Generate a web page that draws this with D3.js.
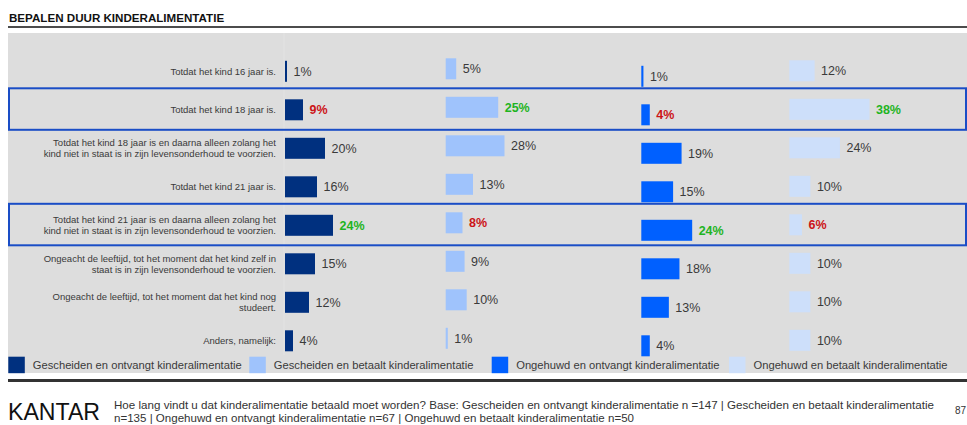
<!DOCTYPE html>
<html>
<head>
<meta charset="utf-8">
<script src="https://cdn.jsdelivr.net/npm/d3@7"></script>
<style>
  html, body { margin: 0; padding: 0; background: #ffffff; }
  svg { display: block; }
</style>
</head>
<body>
<div id="chart"></div>
<script>
// ---------- DATA ----------
const categories = [
  ["Totdat het kind 16 jaar is."],
  ["Totdat het kind 18 jaar is."],
  ["Totdat het kind 18 jaar is en daarna alleen zolang het", "kind niet in staat is in zijn levensonderhoud te voorzien."],
  ["Totdat het kind 21 jaar is."],
  ["Totdat het kind 21 jaar is en daarna alleen zolang het", "kind niet in staat is in zijn levensonderhoud te voorzien."],
  ["Ongeacht de leeftijd, tot het moment dat het kind zelf in", "staat is in zijn levensonderhoud te voorzien."],
  ["Ongeacht de leeftijd, tot het moment dat het kind nog", "studeert."],
  ["Anders, namelijk:"]
];
const seriesNames = [
  "Gescheiden en ontvangt kinderalimentatie",
  "Gescheiden en betaalt kinderalimentatie",
  "Ongehuwd en ontvangt kinderalimentatie",
  "Ongehuwd en betaalt kinderalimentatie"
];
const gescheidenOntvangt = [1, 9, 20, 16, 24, 15, 12, 4];
const gescheidenBetaalt  = [5, 25, 28, 13, 8, 9, 10, 1];
const ongehuwdOntvangt   = [1, 4, 19, 15, 24, 18, 13, 4];
const ongehuwdBetaalt    = [12, 38, 24, 10, 6, 10, 10, 10];
// significance markers: "+" higher (green), "-" lower (red), "" none
const gescheidenOntvangtSig = ["", "-", "", "", "+", "", "", ""];
const gescheidenBetaaltSig  = ["", "+", "", "", "-", "", "", ""];
const ongehuwdOntvangtSig   = ["", "-", "", "", "+", "", "", ""];
const ongehuwdBetaaltSig    = ["", "+", "", "", "-", "", "", ""];
const highlightedRows = [1, 4];

const title = "BEPALEN DUUR KINDERALIMENTATIE";
const footerLines = [
  "Hoe lang vindt u dat kinderalimentatie betaald moet worden? Base: Gescheiden en ontvangt kinderalimentatie n =147 | Gescheiden en betaalt kinderalimentatie",
  "n=135 | Ongehuwd en ontvangt kinderalimentatie n=67 | Ongehuwd en betaalt kinderalimentatie n=50"
];
const pageNumber = "87";

// ---------- LAYOUT / STYLE ----------
const W = 967, H = 425;
const colors = ["#00307f", "#9fc3fc", "#0060ff", "#cddffa"];
const panelX = [285, 445.7, 641.3, 789.3];
const panelW = [200, 210, 212, 211];     // pixels per 100%
const seriesOffset = [0, -2.5, 5, -0.5];
const barH = 21;
const sigColor = { "+": "#1fb41f", "-": "#cc1417", "": "#3a3a3a" };
const fontMain = "'Liberation Sans', Arial, Helvetica, sans-serif";
const footerLengths = [820, 520];

const series = [gescheidenOntvangt, gescheidenBetaalt, ongehuwdOntvangt, ongehuwdBetaalt];
const sigs = [gescheidenOntvangtSig, gescheidenBetaaltSig, ongehuwdOntvangtSig, ongehuwdBetaaltSig];

const svg = d3.select("#chart").append("svg").attr("width", W).attr("height", H);

// title
svg.append("text").attr("x", 9).attr("y", 21.5)
  .attr("font-family", fontMain).attr("font-size", 11.6).attr("font-weight", "bold")
  .attr("fill", "#111").text(title);
svg.append("line").attr("x1", 8).attr("x2", W).attr("y1", 27).attr("y2", 27)
  .attr("stroke", "#111").attr("stroke-width", 1.6);

// grey panel
svg.append("rect").attr("x", 8).attr("y", 33).attr("width", W - 8).attr("height", 340)
  .attr("fill", "#dddddd");
svg.append("line").attr("x1", 284).attr("x2", 284).attr("y1", 33).attr("y2", 355)
  .attr("stroke", "#e3e3e3").attr("stroke-width", 1);

// scales
const y = d3.scaleBand().domain(d3.range(categories.length)).range([52.05, 360.05]);
const xScales = panelW.map((w, i) => d3.scaleLinear().domain([0, 100]).range([panelX[i], panelX[i] + w]));

// highlight boxes
highlightedRows.forEach(r => {
  const c = y(r) + y.bandwidth() / 2;
  svg.append("rect").attr("x", 9).attr("y", c - 21.5).attr("width", W - 10).attr("height", 41.5)
    .attr("fill", "none").attr("stroke", "#1a4dc6").attr("stroke-width", 2);
});

// category labels
const catG = svg.append("g");
categories.forEach((lines, i) => {
  const c = y(i) + y.bandwidth() / 2;
  const t = catG.append("text")
    .attr("x", 276).attr("text-anchor", "end")
    .attr("font-family", fontMain).attr("font-size", 9.5).attr("fill", "#3a3a3a");
  const lh = 11;
  const start = c - (lines.length - 1) * lh / 2;
  lines.forEach((ln, k) => {
    t.append("tspan").attr("x", 276).attr("y", start + k * lh).attr("dy", "0.35em").text(ln);
  });
});

// bars + labels
series.forEach((vals, s) => {
  const g = svg.append("g");
  const xs = xScales[s];
  g.selectAll("rect").data(vals).join("rect")
    .attr("x", xs(0))
    .attr("y", (d, i) => y(i) + y.bandwidth() / 2 + seriesOffset[s] - barH / 2)
    .attr("width", d => Math.max(1.6, xs(d) - xs(0)))
    .attr("height", barH)
    .attr("fill", colors[s]);
  g.selectAll("text").data(vals).join("text")
    .attr("x", d => xs(0) + Math.max(1.6, xs(d) - xs(0)) + 6.5)
    .attr("y", (d, i) => y(i) + y.bandwidth() / 2 + seriesOffset[s])
    .attr("dy", "0.35em")
    .attr("font-family", fontMain)
    .attr("font-size", 12.5)
    .attr("font-weight", (d, i) => sigs[s][i] ? "bold" : "normal")
    .attr("fill", (d, i) => sigColor[sigs[s][i]])
    .text(d => d + "%");
});

// legend
const legX = [8.3, 249.3, 491.7, 729];
seriesNames.forEach((n, i) => {
  svg.append("rect").attr("x", legX[i]).attr("y", 356.7).attr("width", 16.5).attr("height", 16.5)
    .attr("fill", colors[i]);
  svg.append("text").attr("x", legX[i] + 24.5).attr("y", 365).attr("dy", "0.35em")
    .attr("font-family", fontMain).attr("font-size", 11.2).attr("fill", "#3a3a3a").text(n);
});

// footer
svg.append("line").attr("x1", 8).attr("x2", W).attr("y1", 380.5).attr("y2", 380.5)
  .attr("stroke", "#333").attr("stroke-width", 3);
svg.append("text").attr("x", 8).attr("y", 420)
  .attr("font-family", fontMain).attr("font-size", 23).attr("fill", "#111")
  .attr("textLength", 92).attr("lengthAdjust", "spacingAndGlyphs").text("KANTAR");
footerLines.forEach((ln, i) => {
  svg.append("text").attr("x", 114).attr("y", 409 + i * 12.5)
    .attr("font-family", fontMain)
    .attr("font-size", 11.5).attr("fill", "#333")
    .attr("textLength", footerLengths[i]).attr("lengthAdjust", "spacingAndGlyphs")
    .text(ln);
});
svg.append("text").attr("x", 955).attr("y", 414)
  .attr("font-family", fontMain).attr("font-size", 10).attr("fill", "#333").text(pageNumber);
</script>
</body>
</html>
